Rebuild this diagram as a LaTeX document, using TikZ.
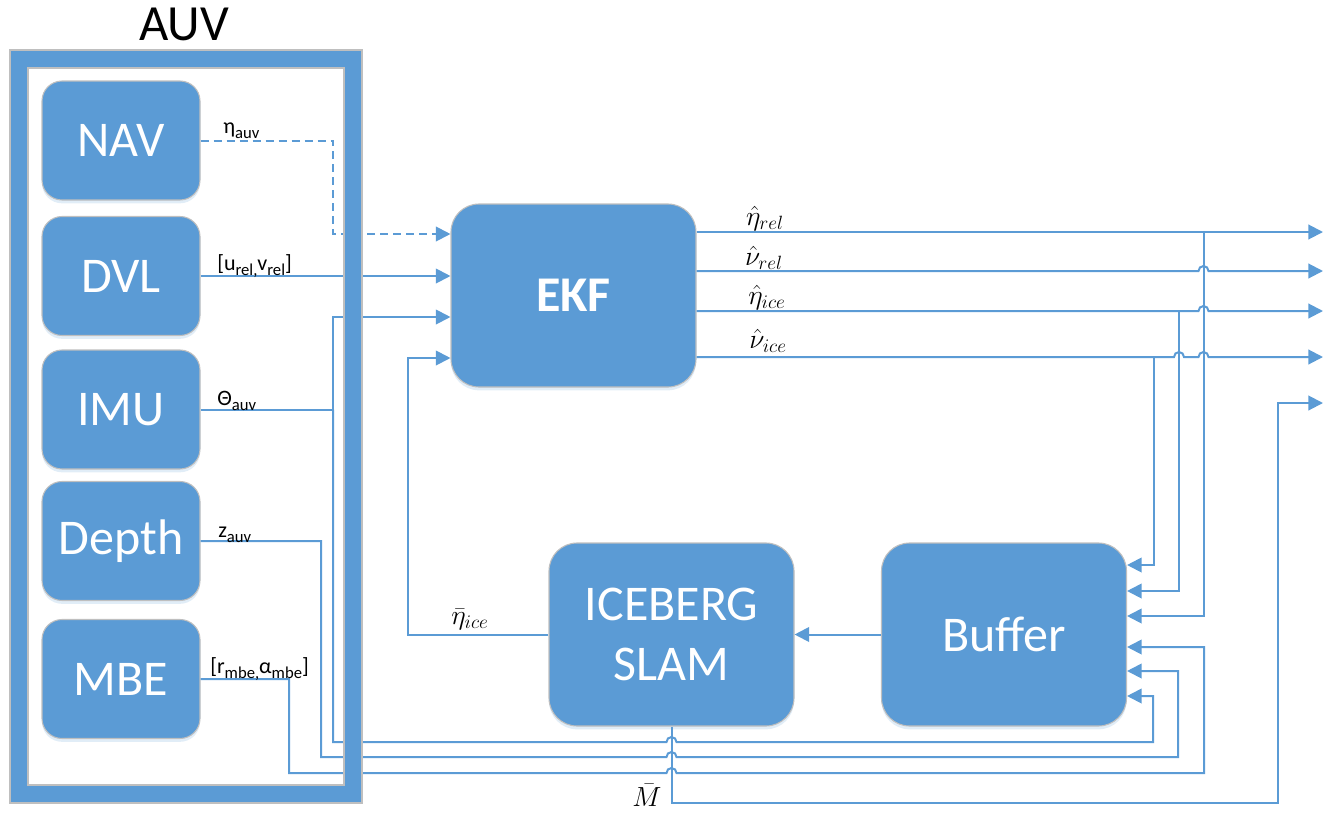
\documentclass[tikz,border=0pt]{standalone}
\usepackage{fontspec}
\setmainfont{Carlito}
\usetikzlibrary{arrows.meta,calc,shadows}
\definecolor{office}{HTML}{5B9BD5}
\definecolor{rim}{HTML}{BFBFBF}
% lowered subscript in text labels
\newcommand\lo[1]{\raisebox{-0.25em}{\fontsize{12.5}{13}\selectfont #1}}
\tikzset{
  blk/.style={draw=rim, line width=0.8pt, fill=office, text=white, inner sep=0pt,
    align=center, font=\fontsize{37.5}{45}\selectfont,
    drop shadow={shadow xshift=0pt, shadow yshift=-2.5pt, fill=office, opacity=0.18}},
  smallbox/.style={blk, rounded corners=15pt, minimum width=118.5pt, minimum height=89.25pt},
  bigbox/.style={blk, rounded corners=21pt, minimum width=183.75pt, minimum height=137.25pt},
  wire/.style={draw=office, line width=1.5pt},
  arr/.style={-{Triangle[length=11pt,width=11pt]}},
  sig/.style={font=\fontsize{16.5}{18}\selectfont, inner sep=0pt, anchor=base west},
  mlab/.style={font=\fontsize{21}{24}\selectfont, inner sep=0pt, anchor=south},
}
\begin{document}
\begin{tikzpicture}[x=0.75pt,y=-0.75pt]
\useasboundingbox (0,0) rectangle (1335,814);

% title
\node[font=\fontsize{38}{40}\selectfont, anchor=base, inner sep=0pt] (title) at (184,40) {AUV};

% sensor blocks
\node[smallbox] (nav)   at (121,140.5) {NAV};
\node[smallbox] (dvl)   at (121,276)   {DVL};
\node[smallbox] (imu)   at (121,409.5) {IMU};
\node[smallbox] (depth) at (121,541)   {Depth};
\node[smallbox] (mbe)   at (121,679)   {MBE};

% processing blocks
\node[bigbox, font=\fontsize{37.5}{45}\selectfont\bfseries] (ekf) at (573.5,295.5) {EKF};
\node[bigbox] (slam) at (671.5,634.5) {ICEBERG\\SLAM};
\node[bigbox] (buf)  at (1004,634.5) {Buffer};

% EKF inputs
\coordinate (e1) at (ekf.west |- 0,234);
\coordinate (e2) at (ekf.west |- 0,276);
\coordinate (e3) at (ekf.west |- 0,317);
\coordinate (e4) at (ekf.west |- 0,358);
% Buffer inputs
\coordinate (b1) at (buf.east |- 0,565);
\coordinate (b2) at (buf.east |- 0,591);
\coordinate (b3) at (buf.east |- 0,616);
\coordinate (b4) at (buf.east |- 0,647);
\coordinate (b5) at (buf.east |- 0,671);
\coordinate (b6) at (buf.east |- 0,696);
% outputs
\coordinate (o1) at (1323,232);
\coordinate (o2) at (1323,271);
\coordinate (o3) at (1323,311);
\coordinate (o4) at (1323,357);
\coordinate (o5) at (1323,403);
% junctions
\coordinate (j1) at (1203.5,232);
\coordinate (j2) at (1179,311);
\coordinate (j3) at (1154,357);
\coordinate (imuj) at (333,409.5);

% sensor wiring
\draw[wire, arr, dash pattern=on 6pt off 3.75pt] (nav.east) -| (333,234) -- (e1);
\draw[wire, arr] (dvl.east |- e2) -- (e2);
\draw[wire] (imu.east) -- (imuj);
\draw[wire, arr] (imuj) |- (e3);
\draw[wire, arr] (imuj) -- (333,742) -- (666.5,742)
  arc[start angle=180, end angle=360, radius=5] -- (1153,742) |- (b6);
\draw[wire, arr] (depth.east) -| (321,757) -- (666.5,757)
  arc[start angle=180, end angle=360, radius=5] -- (1178,757) |- (b5);
\draw[wire, arr] (mbe.east) -| (289,773) -- (666.5,773)
  arc[start angle=180, end angle=360, radius=5] -- (1204,773) |- (b4);

% EKF outputs
\draw[wire, arr] (ekf.east |- o1) -- (o1);
\draw[wire, arr] (ekf.east |- o2) -- (1198.5,271)
  arc[start angle=180, end angle=360, radius=5] -- (o2);
\draw[wire, arr] (ekf.east |- o3) -- (1198.5,311)
  arc[start angle=180, end angle=360, radius=5] -- (o3);
\draw[wire, arr] (ekf.east |- o4) -- (1174,357)
  arc[start angle=180, end angle=360, radius=5] -- (1198.5,357)
  arc[start angle=180, end angle=360, radius=5] -- (o4);
\draw[wire, arr] (j1) |- (b3);
\draw[wire, arr] (j2) |- (b2);
\draw[wire, arr] (j3) |- (b1);

% loop back
\draw[wire, arr] (buf.west) -- (slam.east);
\draw[wire, arr] (slam.west) -| (408,358) -- (e4);
\draw[wire, arr] (slam.south) |- (1278,803) |- (o5);

% AUV frame on top of the wires
\fill[office, even odd rule] (10,50) rectangle (362,803) (28,68) rectangle (344,785);
\draw[rim, line width=0.8pt] (10,50) rectangle (362,803);
\draw[rim, line width=0.8pt] (28,68) rectangle (344,785);

% signal labels
\node[sig] (lnav) at (223,133) {η\lo{auv}};
\node[sig] (ldvl) at (217,270) {[u\lo{rel,}v\lo{rel}]};
\node[sig] (limu) at (217,405) {Θ\lo{auv}};
\node[sig] (ldep) at (218,537) {z\lo{auv}};
\node[sig] (lmbe) at (210,673) {[r\lo{mbe,}α\lo{mbe}]};

\node[mlab] (l1) at (765,231) {$\hat{\eta}_{rel}$};
\node[mlab] (l2) at (764,270) {$\hat{\nu}_{rel}$};
\node[mlab] (l3) at (767,310) {$\hat{\eta}_{ice}$};
\node[mlab] (l4) at (768,353) {$\hat{\nu}_{ice}$};
\node[mlab] (l5) at (470,630) {$\bar{\eta}_{ice}$};
\node[mlab, anchor=base] (l6) at (647,806) {$\bar{M}$};
\end{tikzpicture}
\end{document}
